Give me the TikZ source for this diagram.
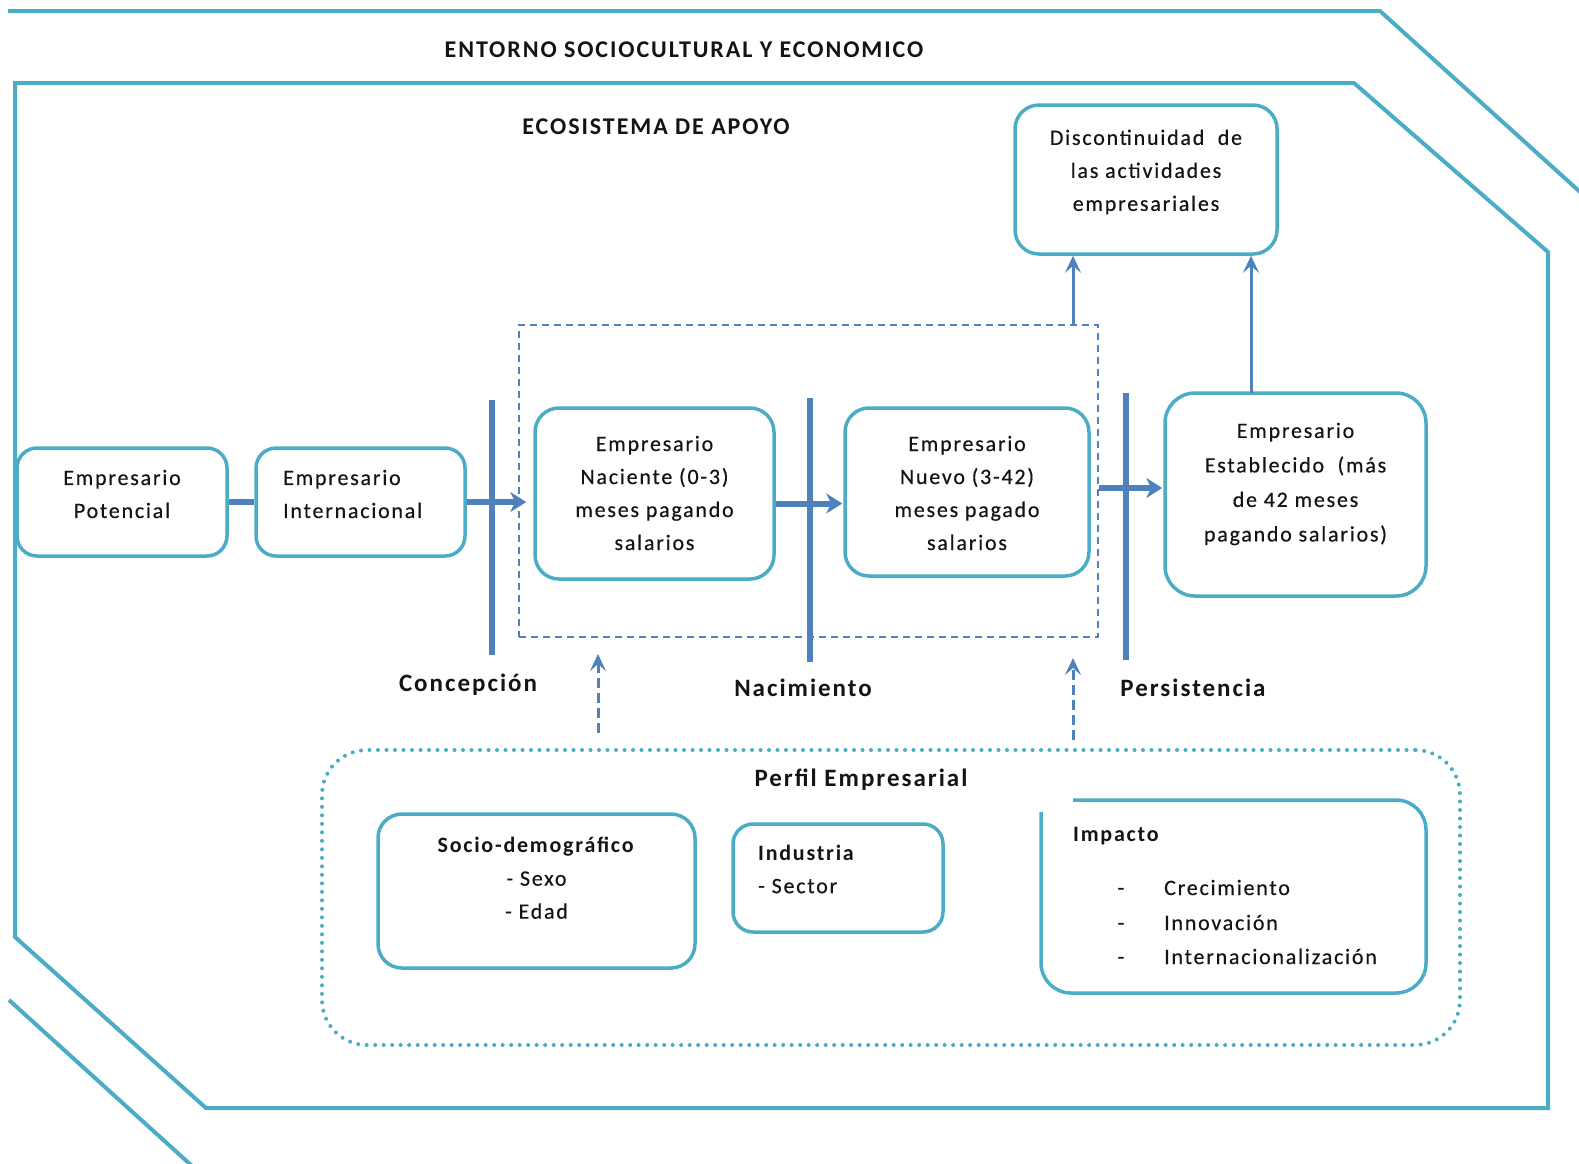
\documentclass[tikz,border=0pt]{standalone}
\usepackage{fontspec}
\setmainfont{Carlito}[LetterSpace=8, UprightFeatures={FakeBold=0.4}]
\usetikzlibrary{arrows.meta,calc}
\definecolor{boxc}{HTML}{4BACC6}
\definecolor{linec}{HTML}{4F81BD}
\definecolor{inkc}{HTML}{141414}
\begin{document}
\begin{tikzpicture}[x=1pt,y=-1pt,
  frame/.style={draw=boxc, line width=4pt, line join=miter},
  box/.style={draw=boxc, line width=3.5pt, rounded corners=24pt, inner sep=0pt},
  conn/.style={draw=linec, line width=6pt},
  carrow/.style={conn, -{Stealth[length=16pt,width=20pt,inset=5pt]}},
  bar/.style={draw=linec, line width=6pt},
  uparrow/.style={draw=linec, line width=3pt, -{Stealth[length=17pt,width=16pt,inset=7pt]}},
  dup/.style={uparrow, dash pattern=on 10pt off 5pt},
  txt/.style={font=\fontsize{22}{33}\selectfont, text=inkc, align=center, inner sep=0pt},
  btxt/.style={txt, font=\bfseries\fontsize{22}{33}\selectfont},
  htxt/.style={txt, font=\bfseries\fontsize{24}{30}\selectfont},
  stxt/.style={txt, font=\bfseries\fontsize{25}{30}\selectfont},
]
\useasboundingbox (0,0) rectangle (1579,1163);

% outer environment frame (partly outside the picture)
\draw[frame] (8,11) -- (1380,11) -- (1600,210);
\draw[frame] (9,1000) -- (202,1175);
% inner support ecosystem frame
\draw[frame] (15,83) -- (1354,83) -- (1548,252) -- (1548,1108) -- (206,1108) -- (15,937) -- cycle;

\node[htxt] (ttl1) at (684,50) {ENTORNO SOCIOCULTURAL Y ECONOMICO};
\node[htxt] (ttl2) at (656,127) {ECOSISTEMA DE APOYO};

% dashed group
\node[draw=linec, line width=1.6pt, dash pattern=on 7pt off 5pt, minimum width=579pt, minimum height=312pt, inner sep=0pt] (grp) at (808.5,481) {};

% boxes
\node[box, minimum width=262pt, minimum height=149pt] (disc) at (1146,179.5) {};
\node[txt] (tdisc) at (1146,172) {Discontinuidad~~de\\las actividades\\empresariales};

\node[box, minimum width=210pt, minimum height=108pt, rounded corners=20pt] (pot) at (122,502) {};
\node[txt] (tpot) at (122,494) {Empresario\\Potencial};

\node[box, minimum width=209pt, minimum height=108pt, rounded corners=20pt] (int) at (360.5,502) {};
\node[txt, align=left, anchor=west] (tint) at (283,494) {Empresario\\Internacional};

\node[box, minimum width=239pt, minimum height=171pt] (nac) at (654.5,493.5) {};
\node[txt] (tnac) at (654.5,493) {Empresario\\Naciente (0-3)\\meses pagando\\salarios};

\node[box, minimum width=244pt, minimum height=168pt] (nue) at (967,492) {};
\node[txt] (tnue) at (967,493) {Empresario\\Nuevo (3-42)\\meses pagado\\salarios};

\node[box, minimum width=261pt, minimum height=203pt, rounded corners=30pt] (est) at (1295.5,494.5) {};
\node[txt, font=\fontsize{22}{34.5}\selectfont] (test) at (1295.5,484) {Empresario\\Establecido~~(más\\de 42 meses\\pagando salarios)};

% stage bars
\coordinate (b1t) at (492,400); \coordinate (b1b) at (492,655);
\coordinate (b2t) at (810,398); \coordinate (b2b) at (810,662);
\coordinate (b3t) at (1126,393); \coordinate (b3b) at (1126,660);

% horizontal connectors
\draw[conn] (pot.east) -- (int.west);
\draw[carrow] (int.east) -- ([xshift=-7pt]int.east -| nac.west);
\draw[carrow] ([yshift=-10pt]nac.east) -- ([yshift=-10pt,xshift=-1pt]nac.east -| nue.west);
\draw[carrow] ([yshift=-7pt]grp.east) -- ([yshift=-7pt,xshift=-1pt]grp.east -| est.west);

\draw[bar] (b1t) -- (b1b);
\draw[bar] (b2t) -- (b2b);
\draw[bar] (b3t) -- (b3b);

\node[stxt] (lc) at (468,685) {Concepción};
\node[stxt] (ln) at (803,688) {Nacimiento};
\node[stxt] (lp) at (1193,688) {Persistencia};

% arrows up to discontinuidad
\coordinate (a1) at (1073,325);
\coordinate (a2) at (1251,393);
\draw[uparrow] (a1) -- (a1 |- disc.south);
\draw[uparrow] (a2) -- (a2 |- disc.south);

% dashed arrows from perfil
\coordinate (d1s) at (598,733); \coordinate (d1e) at (598,654);
\coordinate (d2s) at (1073,740); \coordinate (d2e) at (1073,658);
\draw[dup] (d1s) -- (d1e);
\draw[dup] (d2s) -- (d2e);

% perfil empresarial
\node[draw=boxc, line width=4pt, dash pattern=on 0pt off 8.5pt, line cap=round, rounded corners=45pt, minimum width=1138pt, minimum height=295pt, inner sep=0pt] (perfil) at (891,897.5) {};
\node[stxt] (tperf) at (861,780) {Perfil Empresarial};

\node[box, minimum width=317pt, minimum height=154pt] (soc) at (536.5,891) {};
\node[txt] (tsoc) at (536.5,878) {\textbf{Socio-demográfico}\\- Sexo\\- Edad};

\node[box, minimum width=210pt, minimum height=108pt, rounded corners=20pt] (ind) at (838,878) {};
\node[txt, align=left, anchor=west] (tind) at (758,869) {\textbf{Industria}\\- Sector};

\coordinate (imp) at (1233.5,896.5);
\draw[boxc, line width=3.5pt, rounded corners=30pt] (1073,800) -- (1426,800) -- (1426,993) -- (1041,993) -- (1041,812);
\node[btxt, anchor=base west] (timp) at (1073,841) {Impacto};
\node[txt, anchor=base] (bu1) at (1121,895) {-};
\node[txt, anchor=base] (bu2) at (1121,930) {-};
\node[txt, anchor=base] (bu3) at (1121,964) {-};
\node[txt, anchor=base west] (i1) at (1164,895) {Crecimiento};
\node[txt, anchor=base west] (i2) at (1164,930) {Innovación};
\node[txt, anchor=base west] (i3) at (1164,964) {Internacionalización};
\end{tikzpicture}
\end{document}
